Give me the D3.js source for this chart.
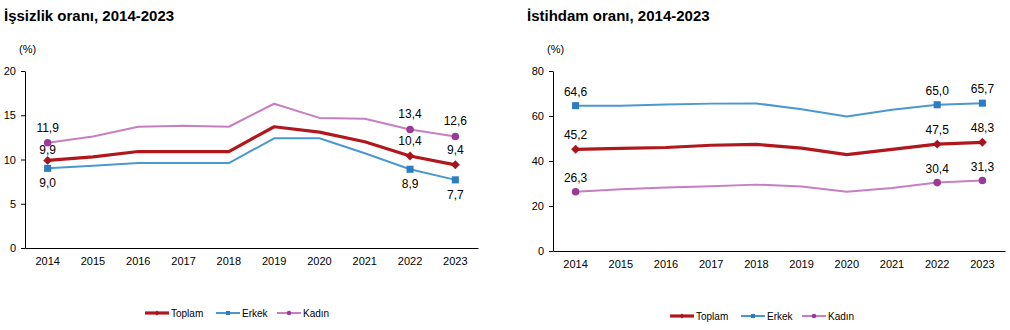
<!DOCTYPE html>
<html>
<head>
<meta charset="utf-8">
<script src="https://cdn.jsdelivr.net/npm/d3@7"></script>
<style>
  body { margin: 0; background: #fff; }
  svg { display: block; font-family: "Liberation Sans", Arial, sans-serif; }
  .domain { stroke: #000; }
  .tick line { stroke: #000; }
  .tick text { fill: #000; font-size: 11px; }
</style>
</head>
<body>
<svg id="chart" width="1010" height="330"></svg>
<script>
const years = ['2014', '2015', '2016', '2017', '2018', '2019', '2020', '2021', '2022', '2023'];
const seriesNames = ['Toplam', 'Erkek', 'Kadın'];

// İşsizlik oranı
const unempTotal = [9.9, 10.3, 10.9, 10.9, 10.9, 13.7, 13.1, 12.0, 10.4, 9.4];
const unempMale = [9.0, 9.3, 9.6, 9.6, 9.6, 12.4, 12.4, 10.7, 8.9, 7.7];
const unempFemale = [11.9, 12.6, 13.7, 13.8, 13.7, 16.3, 14.7, 14.6, 13.4, 12.6];
const unempTicks = [0, 5, 10, 15, 20];

// İstihdam oranı
const empTotal = [45.2, 45.6, 46.0, 47.0, 47.4, 45.7, 42.8, 45.2, 47.5, 48.3];
const empMale = [64.6, 64.6, 65.1, 65.5, 65.6, 63.0, 59.8, 62.8, 65.0, 65.7];
const empFemale = [26.3, 27.4, 28.2, 28.8, 29.5, 28.7, 26.3, 28.0, 30.4, 31.3];
const empTicks = [0, 20, 40, 60, 80];

// years that carry a marker and value label
const labelYears = ['2014', '2022', '2023'];

const styles = {
    Toplam: { line: '#B0181E', mark: '#A8141C', width: 3.2, shape: d3.symbolSquare, size: 40, rot: 45 },
    Erkek: { line: '#4A98D2', mark: '#2D7CC0', width: 2, shape: d3.symbolSquare, size: 50, rot: 0 },
    'Kadın': { line: '#C77FC2', mark: '#9A3A98', width: 2, shape: d3.symbolCircle, size: 45, rot: 0 },
};

const fmt = v => v.toFixed(1).replace('.', ',');
const svg = d3.select('#chart');

const drawChart = cfg => {
    const g = svg.append('g');

    g.append('text')
        .attr('x', cfg.titleX).attr('y', 21)
        .style('font-size', '15px').style('font-weight', 'bold')
        .text(cfg.title);
    g.append('text')
        .attr('x', cfg.pctX).attr('y', 53)
        .style('font-size', '11px')
        .text('(%)');

    const x = d3.scaleBand().domain(years).range([cfg.left, cfg.right]);
    const y = d3.scaleLinear().domain([0, d3.max(cfg.ticks)]).range([cfg.bottom, 71]);

    g.append('g')
        .attr('transform', `translate(${cfg.left},0)`)
        .call(d3.axisLeft(y).tickValues(cfg.ticks).tickSize(4).tickPadding(5).tickSizeOuter(0));
    g.append('g')
        .attr('transform', `translate(0,${cfg.bottom})`)
        .call(d3.axisBottom(x).tickSize(0).tickPadding(9))
        .call(a => a.selectAll('.tick text').style('font-size', '11px'));

    const line = d3.line()
        .x(d => x(d.year) + x.bandwidth() / 2)
        .y(d => y(d.v));

    // draw Kadın, Erkek, then Toplam on top
    const order = ['Kadın', 'Erkek', 'Toplam'];
    order.forEach(name => {
        const vals = cfg.series[name];
        const pts = years.map((year, i) => ({ year, v: vals[i] }));
        const st = styles[name];
        g.append('path')
            .datum(pts)
            .attr('fill', 'none')
            .attr('stroke', st.line)
            .attr('stroke-width', st.width)
            .attr('stroke-linejoin', 'round')
            .attr('d', line);

        const marked = pts.filter(d => labelYears.includes(d.year));
        g.selectAll(null)
            .data(marked)
            .enter().append('path')
            .attr('transform', d => `translate(${x(d.year) + x.bandwidth() / 2},${y(d.v)}) rotate(${st.rot})`)
            .attr('d', d3.symbol().type(st.shape).size(st.size))
            .attr('fill', st.mark);

        g.selectAll(null)
            .data(marked)
            .enter().append('text')
            .attr('x', d => x(d.year) + x.bandwidth() / 2)
            .attr('y', d => y(d.v) + cfg.labelDy(name, d.year))
            .attr('text-anchor', 'middle')
            .style('font-size', '12px')
            .text(d => fmt(d.v));
    });

    // legend
    const leg = g.append('g').attr('transform', `translate(${cfg.legendX},${cfg.legendY})`);
    const offsets = [0, 71, 132];
    seriesNames.forEach((name, i) => {
        const st = styles[name];
        const item = leg.append('g').attr('transform', `translate(${offsets[i]},0)`);
        item.append('line')
            .attr('x1', 0).attr('x2', 24)
            .attr('stroke', st.line)
            .attr('stroke-width', name === 'Toplam' ? 3.2 : 2);
        item.append('path')
            .attr('transform', `translate(12,0) rotate(${st.rot})`)
            .attr('d', d3.symbol().type(st.shape).size(name === 'Toplam' ? 12 : 16))
            .attr('fill', st.mark);
        item.append('text')
            .attr('x', 26).attr('y', 3.5)
            .style('font-size', '10px')
            .text(name);
    });
};

drawChart({
    title: 'İşsizlik oranı, 2014-2023',
    titleX: 4, pctX: 19,
    left: 25, right: 478, bottom: 248,
    ticks: unempTicks,
    series: { Toplam: unempTotal, Erkek: unempMale, 'Kadın': unempFemale },
    labelDy: (name, year) => {
        if (name === 'Erkek') return 19;
        if (name === 'Toplam' && year === '2014') return -6;
        return -11;
    },
    legendX: 145, legendY: 313,
});

drawChart({
    title: 'İstihdam oranı, 2014-2023',
    titleX: 527, pctX: 547,
    left: 553, right: 1005, bottom: 251,
    ticks: empTicks,
    series: { Toplam: empTotal, Erkek: empMale, 'Kadın': empFemale },
    labelDy: () => -10,
    legendX: 670, legendY: 316,
});
</script>
</body>
</html>
